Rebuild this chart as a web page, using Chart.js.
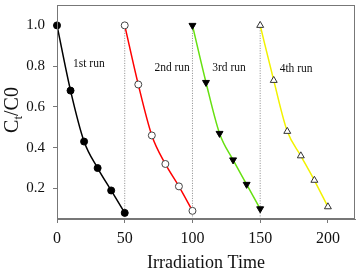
<!DOCTYPE html>
<html>
<head>
<meta charset="utf-8">
<script src="https://cdn.jsdelivr.net/npm/chart.js@4.4.1/dist/chart.umd.min.js"></script>
<style>
  html, body { margin: 0; padding: 0; background: #fff; }
  #wrap { width: 360px; height: 271px; }
</style>
</head>
<body>
<div id="wrap"><canvas id="chart"></canvas></div>
<script>
// ── Data ───────────────────────────────────────────────────────────
const run1X = [0, 10, 20, 30, 40, 50];
const run1Y = [1.0, 0.68, 0.43, 0.30, 0.19, 0.08];
const run2X = [50, 60, 70, 80, 90, 100];
const run2Y = [1.0, 0.71, 0.46, 0.32, 0.21, 0.09];
const run3X = [100, 110, 120, 130, 140, 150];
const run3Y = [1.0, 0.72, 0.47, 0.34, 0.22, 0.10];
const run4X = [150, 160, 170, 180, 190, 200];
const run4Y = [1.0, 0.73, 0.48, 0.36, 0.24, 0.11];

const separatorX = [50, 100, 150];
const xTicks = [0, 50, 100, 150, 200];
const yTicks = [0.2, 0.4, 0.6, 0.8, 1.0];

const runLabels = ["1st run", "2nd run", "3rd run", "4th run"];
const runLabelX = [23.5, 85, 127, 176.5];
const runLabelY = [0.81, 0.79, 0.79, 0.785];

const X_MIN = 0, X_MAX = 220, Y_MIN = 0.05, Y_MAX = 1.1;
const SERIF = "'Liberation Serif', 'Times New Roman', serif";

function pts(xs, ys) {
  return xs.map(function (x, i) { return { x: x, y: ys[i] }; });
}

function runDataset(xs, ys, color, style) {
  return Object.assign({
    data: pts(xs, ys),
    borderColor: color,
    borderWidth: 1.5,
    cubicInterpolationMode: "monotone",
    pointRadius: 3.5,
    pointBorderWidth: 1,
    clip: false,
  }, style);
}

const datasets = [
  runDataset(run1X, run1Y, "#000000", { pointStyle: "circle", pointBackgroundColor: "#000", pointBorderColor: "#000" }),
  runDataset(run2X, run2Y, "#ff0000", { pointStyle: "circle", pointBackgroundColor: "#fff", pointBorderColor: "#444" }),
  runDataset(run3X, run3Y, "#66e010", { pointStyle: "triangle", pointRotation: 180, pointRadius: 4, pointBackgroundColor: "#000", pointBorderColor: "#000" }),
  runDataset(run4X, run4Y, "#f2f200", { pointStyle: "triangle", pointRadius: 4, pointBackgroundColor: "#fff", pointBorderColor: "#333" }),
];

// dotted separators between runs
separatorX.forEach(function (x) {
  datasets.push({
    data: [{ x: x, y: 1.0 }, { x: x, y: Y_MIN }],
    borderColor: "#888",
    borderWidth: 1,
    borderDash: [1, 1.5],
    pointRadius: 0,
  });
});

// ── Plugin: frame, axis titles, run labels ─────────────────────────
const decorPlugin = {
  id: "decor",
  afterDatasetsDraw: function (chart) {
    const ctx = chart.ctx;
    const a = chart.chartArea;
    const xs = chart.scales.x, ys = chart.scales.y;
    ctx.save();

    ctx.strokeStyle = "#777";
    ctx.lineWidth = 1;
    ctx.strokeRect(a.left + 0.5, a.top + 0.5, a.right - a.left - 1, a.bottom - a.top - 1);

    ctx.fillStyle = "#111";
    ctx.textAlign = "center";
    ctx.textBaseline = "middle";
    ctx.font = "11.5px " + SERIF;
    runLabels.forEach(function (t, i) {
      ctx.fillText(t, xs.getPixelForValue(runLabelX[i]), ys.getPixelForValue(runLabelY[i]));
    });

    ctx.font = "18px " + SERIF;
    ctx.fillText("Irradiation Time", (a.left + a.right) / 2, 263);

    // y title: C_t/C0
    ctx.translate(11, 110);
    ctx.rotate(-Math.PI / 2);
    ctx.textAlign = "left";
    ctx.textBaseline = "alphabetic";
    const big = "20px " + SERIF, small = "13px " + SERIF;
    ctx.font = big;
    const wC = ctx.measureText("C").width;
    const wRest = ctx.measureText("/C0").width;
    ctx.font = small;
    const wt = ctx.measureText("t").width;
    let x0 = -(wC + wt + wRest) / 2;
    ctx.font = big;
    ctx.fillText("C", x0, 7);
    ctx.font = small;
    ctx.fillText("t", x0 + wC, 11);
    ctx.font = big;
    ctx.fillText("/C0", x0 + wC + wt, 7);

    ctx.restore();
  },
};

new Chart(document.getElementById("chart"), {
  type: "line",
  data: { datasets: datasets },
  plugins: [decorPlugin],
  options: {
    responsive: true,
    maintainAspectRatio: false,
    animation: false,
    events: [],
    layout: { padding: { top: 3, right: 3, left: 0, bottom: 0 } },
    plugins: { legend: { display: false }, tooltip: { enabled: false } },
    scales: {
      x: {
        type: "linear",
        min: X_MIN,
        max: X_MAX,
        afterBuildTicks: function (s) { s.ticks = xTicks.map(function (v) { return { value: v }; }); },
        afterFit: function (s) { s.height = 52; s.paddingLeft = 0; s.paddingRight = 0; },
        grid: { display: true, drawOnChartArea: false, tickLength: 4, color: "#777" },
        border: { display: true, color: "#777" },
        ticks: { color: "#111", padding: 6, maxRotation: 0, font: { family: SERIF, size: 16 } },
      },
      y: {
        type: "linear",
        min: Y_MIN,
        max: Y_MAX,
        afterBuildTicks: function (s) { s.ticks = yTicks.map(function (v) { return { value: v }; }); },
        afterFit: function (s) { s.width = 57; s.paddingTop = 0; s.paddingBottom = 0; },
        grid: { display: true, drawOnChartArea: false, tickLength: 4, color: "#777" },
        border: { display: true, color: "#777" },
        ticks: {
          color: "#111",
          padding: 8,
          font: { family: SERIF, size: 15 },
          callback: function (v) { return v.toFixed(1); },
        },
      },
    },
  },
});
</script>
</body>
</html>
